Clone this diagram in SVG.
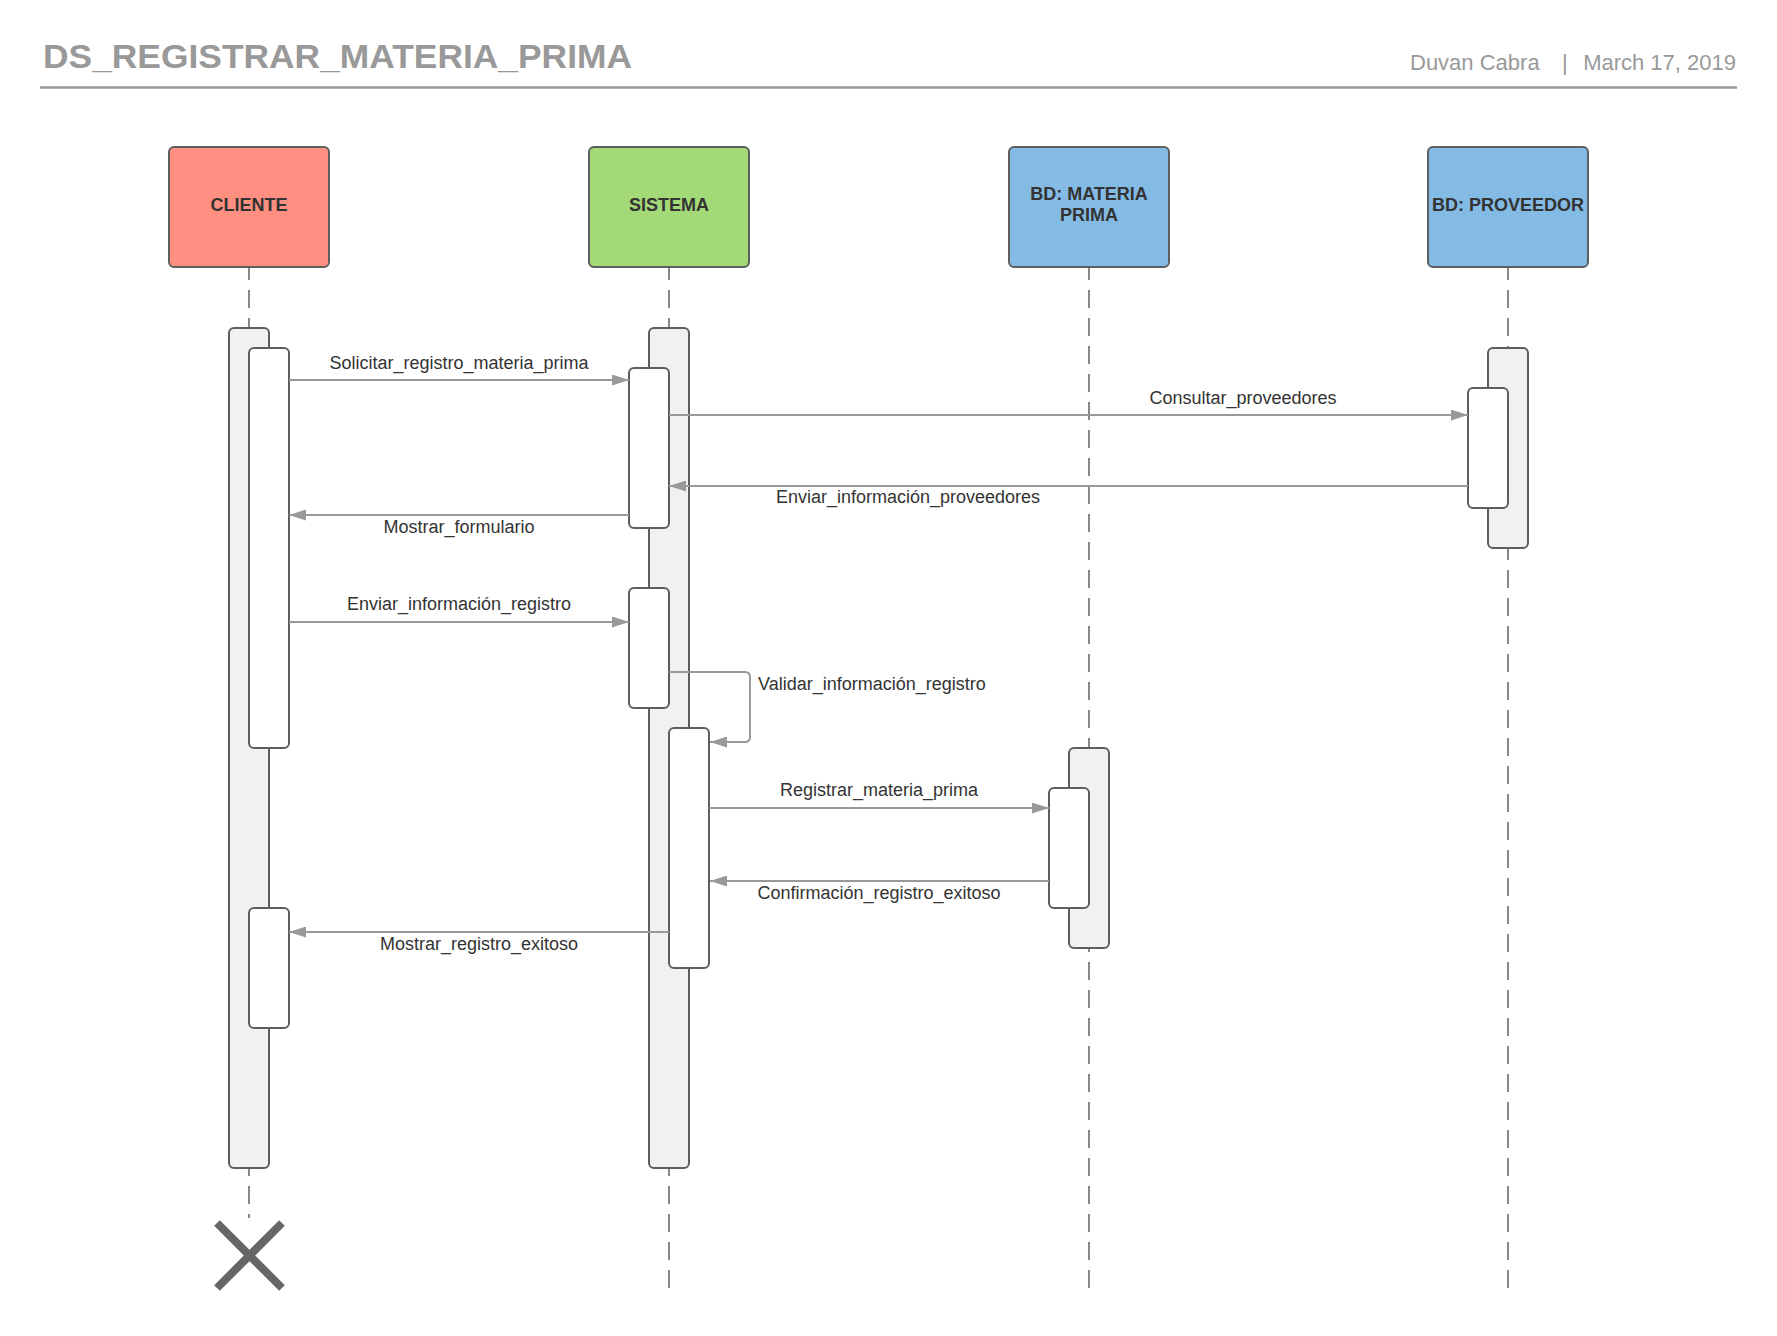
<svg xmlns="http://www.w3.org/2000/svg" width="1777" height="1336" viewBox="0 0 1777 1336">
<defs>
<style>
.title{font-family:"Liberation Sans",Arial,sans-serif;font-weight:bold;font-size:34px;fill:#999}
.meta{font-family:"Liberation Sans",Arial,sans-serif;font-size:22px;fill:#999}
.actor{stroke:#5e5e5e;stroke-width:2}
.aname{font-family:"Liberation Sans",Arial,sans-serif;font-weight:bold;font-size:18px;fill:#333;text-anchor:middle}
.life{stroke:#888;stroke-width:2;stroke-dasharray:18 10;fill:none}
.outer{fill:#f1f1f1;stroke:#5e5e5e;stroke-width:2}
.inner{fill:#fff;stroke:#5e5e5e;stroke-width:2}
.msg{stroke:#999;stroke-width:2;fill:none;marker-end:url(#arr)}
.lbl{font-family:"Liberation Sans",Arial,sans-serif;font-size:18px;fill:#333;text-anchor:middle}
</style>
<marker id="arr" viewBox="0 0 17 11" refX="17" refY="5.5" markerWidth="17" markerHeight="11" markerUnits="userSpaceOnUse" orient="auto">
<path d="M0,0 L17,5.5 L0,11 Z" fill="#999"/>
</marker>
</defs>
<rect width="1777" height="1336" fill="#fff"/>
<g id="header">
<text class="title" x="43" y="68" textLength="589" lengthAdjust="spacingAndGlyphs">DS_REGISTRAR_MATERIA_PRIMA</text>
<text class="meta" x="1410" y="70">Duvan Cabra</text>
<text class="meta" x="1562" y="70">|</text>
<text class="meta" x="1736" y="70" text-anchor="end">March 17, 2019</text>
<line x1="40" y1="87.5" x2="1737" y2="87.5" stroke="#999" stroke-width="2.5"/>
</g>
<g id="lifelines">
<line class="life" x1="249" y1="267" x2="249" y2="1218" stroke-dashoffset="5"/>
<line class="life" x1="669" y1="267" x2="669" y2="1290" stroke-dashoffset="5"/>
<line class="life" x1="1089" y1="267" x2="1089" y2="1290" stroke-dashoffset="5"/>
<line class="life" x1="1508" y1="267" x2="1508" y2="1290" stroke-dashoffset="5"/>
</g>
<g id="cliente">
<rect class="actor" x="169" y="147" width="160" height="120" rx="5" fill="#ff8f80"/>
<text class="aname" x="249" y="211">CLIENTE</text>
<rect class="outer" x="229" y="328" width="40" height="840" rx="5"/>
<rect class="inner" x="249" y="348" width="40" height="400" rx="5"/>
<rect class="inner" x="249" y="908" width="40" height="120" rx="5"/>
<path d="M217,1223 L282,1288 M282,1223 L217,1288" stroke="#666" stroke-width="8"/>
</g>
<g id="sistema">
<rect class="actor" x="589" y="147" width="160" height="120" rx="5" fill="#a3d977"/>
<text class="aname" x="669" y="211">SISTEMA</text>
<rect class="outer" x="649" y="328" width="40" height="840" rx="5"/>
<rect class="inner" x="629" y="368" width="40" height="160" rx="5"/>
<rect class="inner" x="629" y="588" width="40" height="120" rx="5"/>
<rect class="inner" x="669" y="728" width="40" height="240" rx="5"/>
</g>
<g id="bd-materia-prima">
<rect class="actor" x="1009" y="147" width="160" height="120" rx="5" fill="#83bbe5"/>
<text class="aname" x="1089" y="200">BD: MATERIA</text>
<text class="aname" x="1089" y="221">PRIMA</text>
<rect class="outer" x="1069" y="748" width="40" height="200" rx="5"/>
<rect class="inner" x="1049" y="788" width="40" height="120" rx="5"/>
</g>
<g id="bd-proveedor">
<rect class="actor" x="1428" y="147" width="160" height="120" rx="5" fill="#83bbe5"/>
<text class="aname" x="1508" y="211">BD: PROVEEDOR</text>
<rect class="outer" x="1488" y="348" width="40" height="200" rx="5"/>
<rect class="inner" x="1468" y="388" width="40" height="120" rx="5"/>
</g>
<g id="connectors">
<line class="msg" x1="289" y1="380" x2="629" y2="380"/>
<text class="lbl" x="459" y="369">Solicitar_registro_materia_prima</text>
<line class="msg" x1="669" y1="415" x2="1468" y2="415"/>
<text class="lbl" x="1243" y="404">Consultar_proveedores</text>
<line class="msg" x1="1468" y1="486" x2="669" y2="486"/>
<text class="lbl" x="908" y="503">Enviar_información_proveedores</text>
<line class="msg" x1="629" y1="515" x2="289" y2="515"/>
<text class="lbl" x="459" y="533">Mostrar_formulario</text>
<line class="msg" x1="289" y1="622" x2="629" y2="622"/>
<text class="lbl" x="459" y="610">Enviar_información_registro</text>
<path class="msg" d="M669,672 L745,672 Q750,672 750,677 L750,737 Q750,742 745,742 L710,742"/>
<text class="lbl" x="758" y="690" text-anchor="start" style="text-anchor:start">Validar_información_registro</text>
<line class="msg" x1="709" y1="808" x2="1049" y2="808"/>
<text class="lbl" x="879" y="796">Registrar_materia_prima</text>
<line class="msg" x1="1049" y1="881" x2="710" y2="881"/>
<text class="lbl" x="879" y="899">Confirmación_registro_exitoso</text>
<line class="msg" x1="669" y1="932" x2="289" y2="932"/>
<text class="lbl" x="479" y="950">Mostrar_registro_exitoso</text>
</g>
</svg>
